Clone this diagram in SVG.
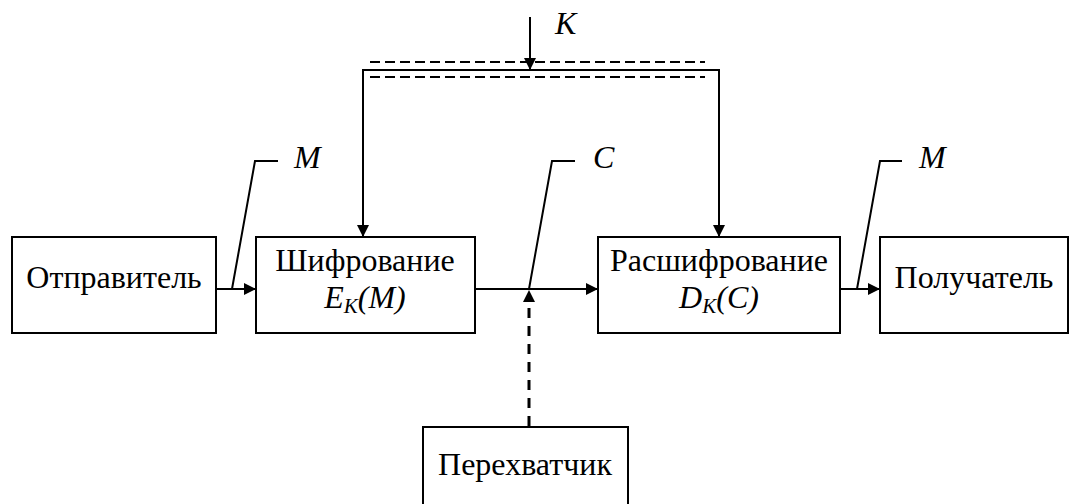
<svg xmlns="http://www.w3.org/2000/svg" width="1071" height="504" viewBox="0 0 1071 504">
<defs>
<marker id="ah" markerWidth="12" markerHeight="12" refX="12" refY="6" orient="auto" markerUnits="userSpaceOnUse">
<path d="M0,0 L12,6 L0,12 Z" fill="#000"/>
</marker>
</defs>
<style>
.box{fill:#fff;stroke:#000;stroke-width:2}
.c{fill:none;stroke:#000;stroke-width:2}
.d{fill:none;stroke:#000;stroke-width:2;stroke-dasharray:10 5}
</style>
<rect width="1071" height="504" fill="#fff"/>
<g id="connectors">
<line class="c" x1="530" y1="17" x2="530" y2="70" marker-end="url(#ah)"/>
<line class="d" x1="370" y1="62" x2="705" y2="62"/>
<line class="d" x1="370" y1="77" x2="705" y2="77"/>
<polyline class="c" points="363,226 363,70 719,70 719,226"/>
<line class="c" x1="363" y1="100" x2="363" y2="237" marker-end="url(#ah)"/>
<line class="c" x1="719" y1="100" x2="719" y2="237" marker-end="url(#ah)"/>
<line class="c" x1="216" y1="289" x2="256" y2="289" marker-end="url(#ah)"/>
<line class="c" x1="475" y1="289" x2="598" y2="289" marker-end="url(#ah)"/>
<line class="c" x1="840" y1="289" x2="880" y2="289" marker-end="url(#ah)"/>
<line x1="529" y1="426" x2="529" y2="302" stroke="#000" stroke-width="3" stroke-dasharray="10 8"/>
<path d="M529,290 L523,302 L535,302 Z" fill="#000"/>
<polyline class="c" points="232,289 255,161 278,161"/>
<polyline class="c" points="529,289 552,161 575,161"/>
<polyline class="c" points="857,289 880,161 902,161"/>
</g>
<g id="labels">
<text x="555" y="34" font-family="Times New Roman" font-size="32" font-style="italic">K</text>
<text x="294" y="168" font-family="Times New Roman" font-size="32" font-style="italic">M</text>
<text x="593" y="168" font-family="Times New Roman" font-size="32" font-style="italic">C</text>
<text x="919" y="168" font-family="Times New Roman" font-size="32" font-style="italic">M</text>
</g>
<g id="sender">
<rect class="box" x="12" y="237" width="204" height="96"/>
<text x="114" y="288" font-family="Times New Roman" font-size="32" text-anchor="middle">Отправитель</text>
</g>
<g id="encrypt">
<rect class="box" x="256" y="237" width="219" height="96"/>
<text x="365" y="271" font-family="Times New Roman" font-size="32" text-anchor="middle">Шифрование</text>
<text x="365" y="308" font-family="Times New Roman" font-size="32" font-style="italic" text-anchor="middle">E<tspan font-size="21" dy="5">K</tspan><tspan dy="-5">(M)</tspan></text>
</g>
<g id="decrypt">
<rect class="box" x="598" y="237" width="242" height="96"/>
<text x="719" y="271" font-family="Times New Roman" font-size="32" text-anchor="middle">Расшифрование</text>
<text x="719" y="308" font-family="Times New Roman" font-size="32" font-style="italic" text-anchor="middle">D<tspan font-size="21" dy="5">K</tspan><tspan dy="-5">(C)</tspan></text>
</g>
<g id="receiver">
<rect class="box" x="880" y="237" width="188" height="96"/>
<text x="974" y="288" font-family="Times New Roman" font-size="32" text-anchor="middle">Получатель</text>
</g>
<g id="interceptor">
<rect class="box" x="423" y="427" width="205" height="90"/>
<text x="525" y="475" font-family="Times New Roman" font-size="32" text-anchor="middle">Перехватчик</text>
</g>
</svg>
